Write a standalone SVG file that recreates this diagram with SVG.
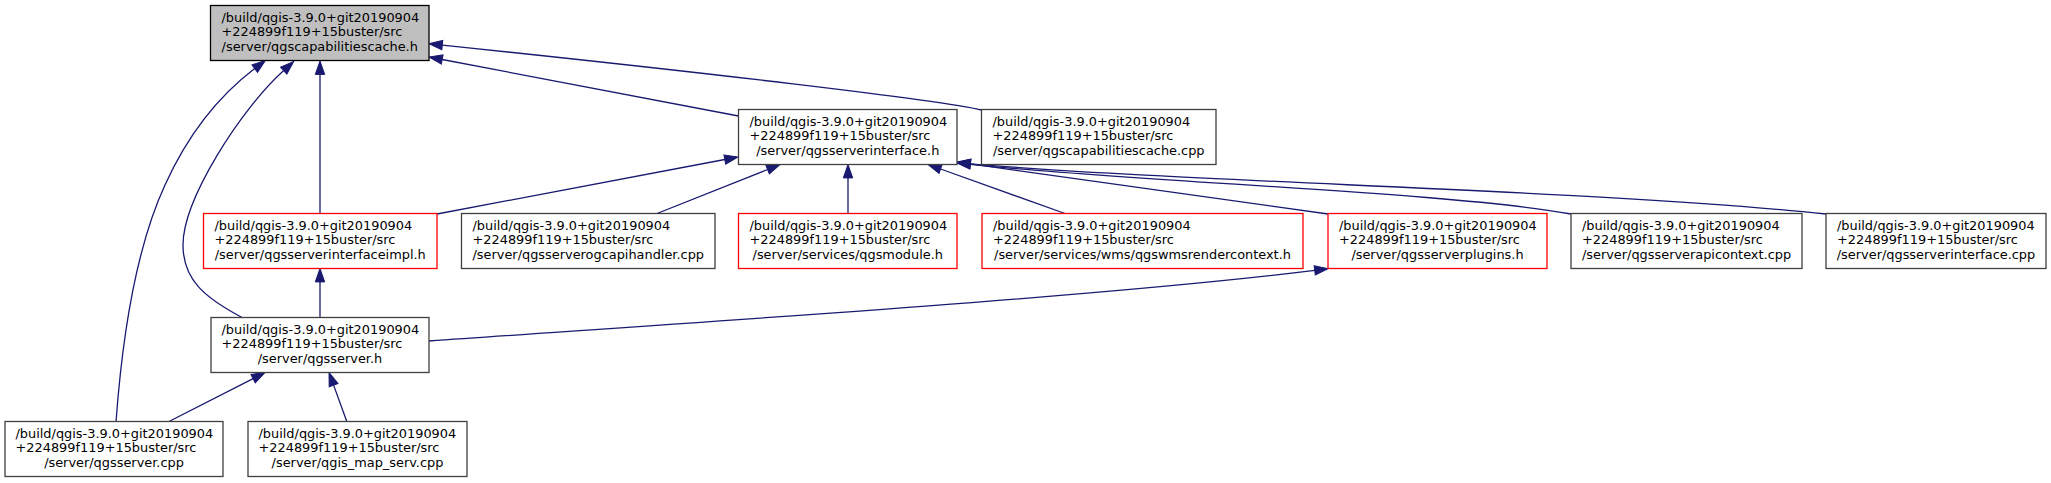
<svg xmlns="http://www.w3.org/2000/svg" width="2051" height="483" viewBox="0 0 2051 483">
<style>
.n{fill:#ffffff;stroke:#404040;stroke-width:1.3}
.r{fill:#ffffff;stroke:#ff0000;stroke-width:1.3}
.root{fill:#bfbfbf;stroke:#000000;stroke-width:1.3}
text{font-family:"DejaVu Sans","Liberation Sans",sans-serif;font-size:12.9px;fill:#000000}
.m{text-anchor:middle}
.e{fill:none;stroke:#191970;stroke-width:1.3}
</style>
<defs>
<marker id="ah" markerUnits="userSpaceOnUse" markerWidth="15" markerHeight="11" refX="0" refY="4.7" orient="auto" overflow="visible">
<path d="M0,0 L13.4,4.7 L0,9.4 Z" fill="#191970" stroke="#191970" stroke-width="1"/>
</marker>
</defs>
<rect width="2051" height="483" fill="#ffffff"/>
<g id="connectors">
<path class="e" marker-end="url(#ah)" d="M320,213.5 L320,74.4"/>
<path class="e" marker-end="url(#ah)" d="M320,317.5 L320,281.9"/>
<path class="e" marker-end="url(#ah)" d="M243,318 C205,298 183,280 183,245 C183,200 240,110 283.7,70.6"/>
<path class="e" marker-end="url(#ah)" d="M116,422 C122,340 135,250 165,185 C190,130 220,95 254.7,68.6"/>
<path class="e" marker-end="url(#ah)" d="M738.5,116 L442.2,59.5"/>
<path class="e" marker-end="url(#ah)" d="M981.5,110 C940,100 700,72 442.3,45.1"/>
<path class="e" marker-end="url(#ah)" d="M437,214 L724.8,159.5"/>
<path class="e" marker-end="url(#ah)" d="M657,213.5 L767.6,169.5"/>
<path class="e" marker-end="url(#ah)" d="M848,213.5 L848,177.9"/>
<path class="e" marker-end="url(#ah)" d="M1065,213.5 L940.6,169"/>
<path class="e" marker-end="url(#ah)" d="M1328,214 L970.3,163.9"/>
<path class="e" marker-end="url(#ah)" d="M1571,214 C1450,192 1150,183 970.3,164.3"/>
<path class="e" marker-end="url(#ah)" d="M1826,214 C1600,190 1200,183 970.3,163.8"/>
<path class="e" marker-end="url(#ah)" d="M429,341 C700,322 1100,297 1314.7,270.4"/>
<path class="e" marker-end="url(#ah)" d="M168,422 L253.1,378.6"/>
<path class="e" marker-end="url(#ah)" d="M347,422 L333.6,385.1"/>
</g>
<g id="node1">
<rect class="root" x="210.5" y="5.5" width="218.5" height="55"/>
<text x="221.5" y="21.5">/build/qgis-3.9.0+git20190904</text>
<text x="221.5" y="36.2">+224899f119+15buster/src</text>
<text class="m" x="319.75" y="50.9">/server/qgscapabilitiescache.h</text>
</g>
<g id="node2">
<rect class="n" x="738.5" y="109.5" width="218.5" height="55"/>
<text x="749.5" y="125.5">/build/qgis-3.9.0+git20190904</text>
<text x="749.5" y="140.2">+224899f119+15buster/src</text>
<text class="m" x="847.75" y="154.9">/server/qgsserverinterface.h</text>
</g>
<g id="node3">
<rect class="n" x="981.5" y="109.5" width="234.5" height="55"/>
<text x="992.5" y="125.5">/build/qgis-3.9.0+git20190904</text>
<text x="992.5" y="140.2">+224899f119+15buster/src</text>
<text class="m" x="1098.75" y="154.9">/server/qgscapabilitiescache.cpp</text>
</g>
<g id="node4">
<rect class="r" x="203.5" y="213.5" width="233.5" height="55"/>
<text x="214.5" y="229.5">/build/qgis-3.9.0+git20190904</text>
<text x="214.5" y="244.2">+224899f119+15buster/src</text>
<text class="m" x="320.25" y="258.9">/server/qgsserverinterfaceimpl.h</text>
</g>
<g id="node5">
<rect class="n" x="461.5" y="213.5" width="253.5" height="55"/>
<text x="472.5" y="229.5">/build/qgis-3.9.0+git20190904</text>
<text x="472.5" y="244.2">+224899f119+15buster/src</text>
<text class="m" x="588.25" y="258.9">/server/qgsserverogcapihandler.cpp</text>
</g>
<g id="node6">
<rect class="r" x="738.5" y="213.5" width="218.5" height="55"/>
<text x="749.5" y="229.5">/build/qgis-3.9.0+git20190904</text>
<text x="749.5" y="244.2">+224899f119+15buster/src</text>
<text class="m" x="847.75" y="258.9">/server/services/qgsmodule.h</text>
</g>
<g id="node7">
<rect class="r" x="982" y="213.5" width="321" height="55"/>
<text x="993" y="229.5">/build/qgis-3.9.0+git20190904</text>
<text x="993" y="244.2">+224899f119+15buster/src</text>
<text class="m" x="1142.5" y="258.9">/server/services/wms/qgswmsrendercontext.h</text>
</g>
<g id="node8">
<rect class="r" x="1328" y="213.5" width="219" height="55"/>
<text x="1339" y="229.5">/build/qgis-3.9.0+git20190904</text>
<text x="1339" y="244.2">+224899f119+15buster/src</text>
<text class="m" x="1437.5" y="258.9">/server/qgsserverplugins.h</text>
</g>
<g id="node9">
<rect class="n" x="1571" y="213.5" width="231" height="55"/>
<text x="1582" y="229.5">/build/qgis-3.9.0+git20190904</text>
<text x="1582" y="244.2">+224899f119+15buster/src</text>
<text class="m" x="1686.5" y="258.9">/server/qgsserverapicontext.cpp</text>
</g>
<g id="node10">
<rect class="n" x="1826" y="213.5" width="220" height="55"/>
<text x="1837" y="229.5">/build/qgis-3.9.0+git20190904</text>
<text x="1837" y="244.2">+224899f119+15buster/src</text>
<text class="m" x="1936" y="258.9">/server/qgsserverinterface.cpp</text>
</g>
<g id="node11">
<rect class="n" x="211" y="317.5" width="218" height="55"/>
<text x="221.5" y="333.5">/build/qgis-3.9.0+git20190904</text>
<text x="221.5" y="348.2">+224899f119+15buster/src</text>
<text class="m" x="320" y="362.9">/server/qgsserver.h</text>
</g>
<g id="node12">
<rect class="n" x="5" y="421.5" width="218" height="55"/>
<text x="15.5" y="437.5">/build/qgis-3.9.0+git20190904</text>
<text x="15.5" y="452.2">+224899f119+15buster/src</text>
<text class="m" x="114" y="466.9">/server/qgsserver.cpp</text>
</g>
<g id="node13">
<rect class="n" x="248" y="421.5" width="219" height="55"/>
<text x="258.5" y="437.5">/build/qgis-3.9.0+git20190904</text>
<text x="258.5" y="452.2">+224899f119+15buster/src</text>
<text class="m" x="357.5" y="466.9">/server/qgis_map_serv.cpp</text>
</g>
</svg>
